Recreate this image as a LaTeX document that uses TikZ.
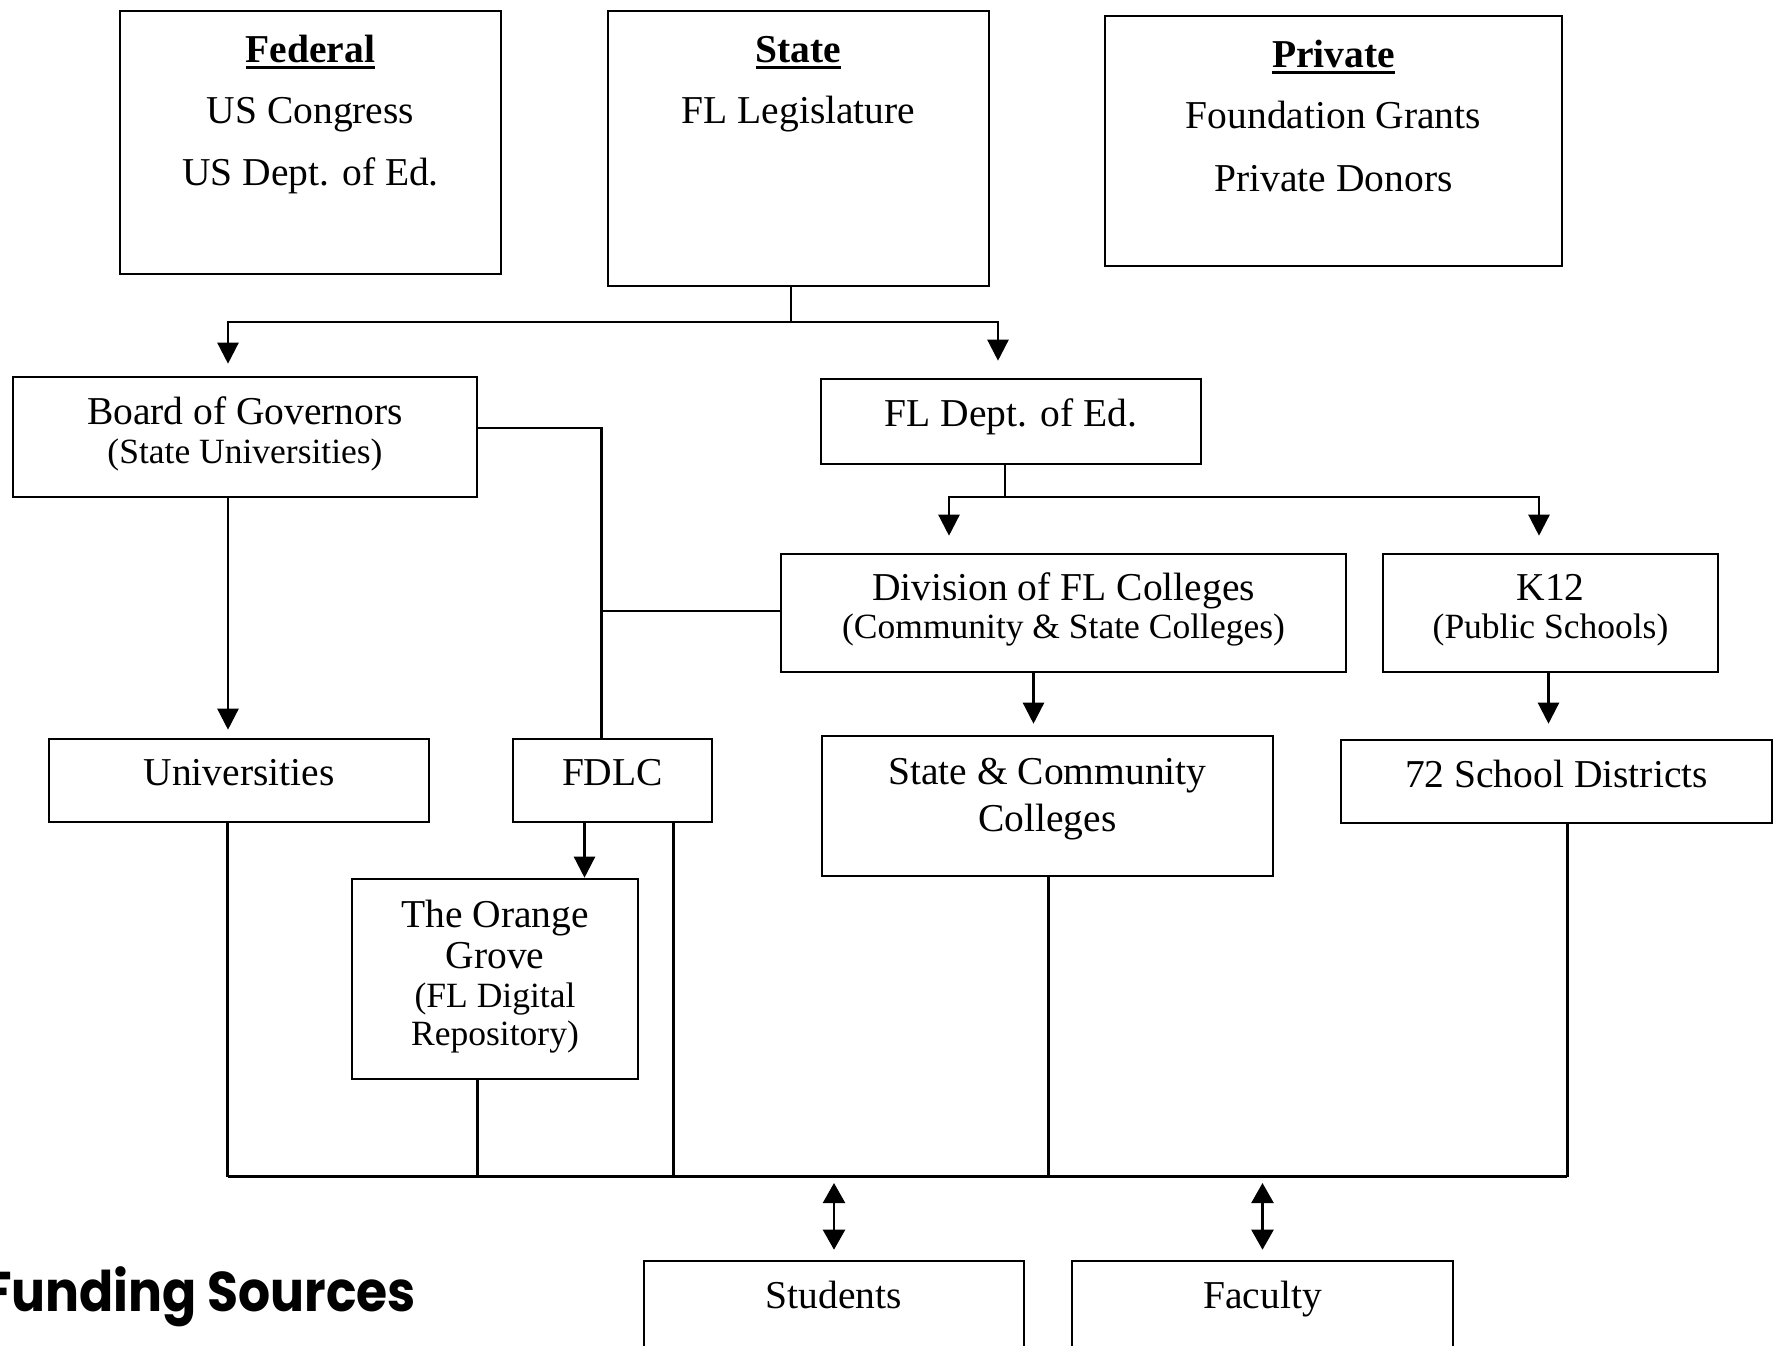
\documentclass[tikz,border=0pt]{standalone}
\usepackage{fontspec}
\setmainfont{Liberation Serif}
\newfontfamily\fundfont[FakeStretch=0.9]{Poppins}
\usetikzlibrary{arrows.meta}
\newcommand\myul[1]{\setbox0\hbox{#1}\rlap{\rule[-6.5pt]{\wd0}{3pt}}\box0}
\begin{document}
\begin{tikzpicture}[x=1pt,y=-1pt,
  box/.style={draw, line width=2.6pt, inner sep=0pt},
  big/.style={font=\fontsize{39.5}{44}\selectfont, anchor=base, inner sep=0pt},
  small/.style={font=\fontsize{35.5}{40}\selectfont, anchor=base, inner sep=0pt},
  conn/.style={line width=2.4pt},
  bus/.style={line width=3.2pt},
  arr/.style={conn, -{Triangle[length=21pt,width=21pt]}},
  darr/.style={conn, {Triangle[length=20pt,width=22pt]}-{Triangle[length=20pt,width=22pt]}}]
\fill[white] (0,0) rectangle (1781,1345);
\useasboundingbox (0,0) rectangle (1781,1345);

% ---- boxes ----
\node[box, minimum width=381pt, minimum height=263pt] (fed) at (310.5,142.5) {};
\node[box, minimum width=381pt, minimum height=275pt] (state) at (798.5,148.5) {};
\node[box, minimum width=457pt, minimum height=250pt] (priv) at (1333.5,141) {};
\node[box, minimum width=464pt, minimum height=120pt] (bog) at (245,437) {};
\node[box, minimum width=380pt, minimum height=85pt] (fldoe) at (1011,421.5) {};
\node[box, minimum width=565pt, minimum height=118pt] (div) at (1063.5,613) {};
\node[box, minimum width=335pt, minimum height=118pt] (k12) at (1550.5,613) {};
\node[box, minimum width=380pt, minimum height=83pt] (univ) at (239,780.5) {};
\node[box, minimum width=199pt, minimum height=83pt] (fdlc) at (612.5,780.5) {};
\node[box, minimum width=451pt, minimum height=140pt] (scc) at (1047.5,806) {};
\node[box, minimum width=431pt, minimum height=83pt] (sd) at (1556.5,781.5) {};
\node[box, minimum width=286pt, minimum height=200pt] (og) at (495,979) {};
\node[box, minimum width=380pt, minimum height=104pt] (stu) at (834,1313) {};
\node[box, minimum width=381pt, minimum height=104pt] (fac) at (1262.5,1313) {};

% ---- texts ----
\node[big] (fed1) at (310.5,62) {\myul{\textbf{Federal}}};
\node[big] (fed2) at (310.5,123) {US Congress};
\node[big] (fed3) at (310.5,185) {US Dept. of Ed.};
\node[big] (st1) at (798.5,62) {\myul{\textbf{State}}};
\node[big] (st2) at (798.5,123) {FL Legislature};
\node[big] (pr1) at (1333.5,67) {\myul{\textbf{Private}}};
\node[big] (pr2) at (1333.5,128) {Foundation Grants};
\node[big] (pr3) at (1333.5,191) {Private Donors};
\node[big] (bog1) at (245,424) {Board of Governors};
\node[small] (bog2) at (245,463) {(State Universities)};
\node[big] (fldoe1) at (1011,426) {FL Dept. of Ed.};
\node[big] (div1) at (1063.5,600) {Division of FL Colleges};
\node[small] (div2) at (1063.5,638) {(Community \& State Colleges)};
\node[big] (k121) at (1550.5,600) {K12};
\node[small] (k122) at (1550.5,638) {(Public Schools)};
\node[big] (univ1) at (239,785) {Universities};
\node[big] (fdlc1) at (612.5,785) {FDLC};
\node[big] (scc1) at (1047.5,784) {State \& Community};
\node[big] (scc2) at (1047.5,831) {Colleges};
\node[big] (sd1) at (1556.5,787) {72 School Districts};
\node[big] (og1) at (495,927) {The Orange};
\node[big] (og2) at (495,968) {Grove};
\node[small] (og3) at (495,1007) {(FL Digital};
\node[small] (og4) at (495,1045) {Repository)};
\node[big] (stu1) at (834,1308) {Students};
\node[big] (fac1) at (1262.5,1308) {Faculty};
\node[anchor=base east, inner sep=0pt, font=\fundfont\bfseries\fontsize{56}{60}\selectfont] (fund) at (416,1311) {Funding Sources};

% ---- connectors ----
\coordinate (sj) at (791,322);
\draw[conn] (state.south -| sj) -- (sj);
\draw[arr, shorten >=12pt] (sj) -| ([xshift=-17pt]bog.north);
\draw[arr, shorten >=17pt] (sj) -| ([xshift=-13pt]fldoe.north);

\coordinate (fj) at (1004.7,497);
\draw[conn] (fldoe.south -| fj) -- (fj);
\draw[arr, shorten >=17pt] (fj) -| ([xshift=-114.5pt]div.north);
\draw[arr, shorten >=17pt] (fj) -| ([xshift=-11.5pt]k12.north);

\draw[arr, shorten >=8pt] ([xshift=-17pt]bog.south) -- ([xshift=-17pt]bog.south |- univ.north);
\coordinate (fdtop) at ([xshift=-11pt]fdlc.north);
\draw[conn] ([yshift=9pt]bog.east) -| (fdtop);
\draw[conn] ([yshift=2pt]div.west) -- ([yshift=2pt]div.west -| fdtop);

\coordinate (divo) at ([xshift=-30pt]div.south);
\draw[arr, shorten >=11pt] (divo) -- (divo |- scc.north);
\coordinate (k12o) at ([xshift=-2pt]k12.south);
\draw[arr, shorten >=15pt] (k12o) -- (k12o |- sd.north);
\coordinate (fdo) at ([xshift=-28pt]fdlc.south);
\draw[arr] (fdo) -- (fdo |- og.north);

% ---- bottom bus ----
\coordinate (uo) at ([xshift=-11.5pt]univ.south);
\coordinate (sdo) at ([xshift=10.8pt]sd.south);
\coordinate (busL) at (227.5,1176.5);
\coordinate (busR) at (sdo |- busL);
\draw[conn] (uo) -- (uo |- busL);
\draw[conn] (sdo) -- (busR);
\draw[bus] (uo |- busL) -- (busR);
\coordinate (ogo) at ([xshift=-17.4pt]og.south);
\draw[conn] (ogo) -- (ogo |- busL);
\coordinate (fdo2) at ([xshift=60.9pt]fdlc.south);
\draw[conn] (fdo2) -- (fdo2 |- busL);
\coordinate (scco) at ([xshift=1pt]scc.south);
\draw[conn] (scco) -- (scco |- busL);

\draw[darr, shorten <=10pt, shorten >=6.5pt] (stu.north) -- (stu.north |- busL);
\draw[darr, shorten <=10pt, shorten >=6.5pt] (fac.north) -- (fac.north |- busL);
\end{tikzpicture}
\end{document}
